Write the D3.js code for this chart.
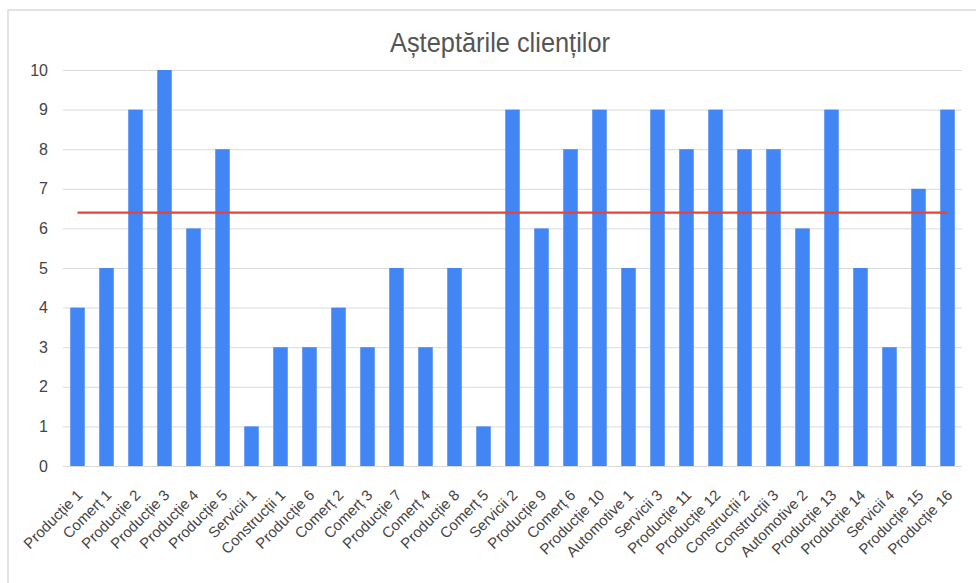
<!DOCTYPE html>
<html>
<head>
<meta charset="utf-8">
<script src="https://cdn.jsdelivr.net/npm/d3@7"></script>
<style>
  html, body { margin: 0; padding: 0; background: #fff; }
  svg { display: block; }
  text { font-family: "Liberation Sans", Arial, sans-serif; }
</style>
</head>
<body>
<svg id="chart" width="976" height="583"></svg>
<script>
// Category labels along the x axis
const categories = [
  "Producție 1", "Comerț 1", "Producție 2", "Producție 3", "Producție 4",
  "Producție 5", "Servicii 1", "Construcții 1", "Producție 6", "Comerț 2",
  "Comerț 3", "Producție 7", "Comerț 4", "Producție 8", "Comerț 5",
  "Servicii 2", "Producție 9", "Comerț 6", "Producție 10", "Automotive 1",
  "Servicii 3", "Producție 11", "Producție 12", "Construcții 2", "Construcții 3",
  "Automotive 2", "Producție 13", "Producție 14", "Servicii 4", "Producție 15",
  "Producție 16"
];

// Bar values per category
const expectations = [
  4, 5, 9, 10, 6, 8, 1, 3, 3, 4, 3, 5, 3, 5, 1,
  9, 6, 8, 9, 5, 9, 8, 9, 8, 8, 6, 9, 5, 3, 7, 9
];

// Reference line value (same for every category)
const referenceValue = 6.4;
const referenceLine = categories.map(() => referenceValue);

// Y axis ticks
const yTicks = [0, 1, 2, 3, 4, 5, 6, 7, 8, 9, 10];

const title = "Așteptările clienților";

const FONT = "'Liberation Sans', Arial, sans-serif";
const svg = d3.select("#chart");

// Outer frame
svg.append("rect")
  .attr("x", 8).attr("y", 10)
  .attr("width", 1000).attr("height", 600)
  .attr("fill", "#fff")
  .attr("stroke", "#dadada")
  .attr("stroke-width", 1.5);

const plot = { left: 63, right: 962, top: 70, bottom: 466 };

const x = d3.scaleBand()
  .domain(categories)
  .range([plot.left, plot.right])
  .paddingInner(0.5)
  .paddingOuter(0.25);

const y = d3.scaleLinear()
  .domain([0, 10])
  .range([plot.bottom, plot.top]);

// Title (narrow face)
svg.append("text")
  .attr("x", 390)
  .attr("y", 52)
  .attr("font-size", 28)
  .attr("fill", "#555")
  .attr("textLength", 220)
  .attr("lengthAdjust", "spacingAndGlyphs")
  .text(title);

// Gridlines and y labels
const yAxis = d3.axisLeft(y)
  .tickValues(yTicks)
  .tickSize(-(plot.right - plot.left))
  .tickPadding(15)
  .tickFormat(d3.format("d"));

const gy = svg.append("g")
  .attr("transform", `translate(${plot.left},0)`)
  .call(yAxis);
gy.select(".domain").remove();
gy.selectAll(".tick line")
  .attr("stroke", "#dadada")
  .attr("stroke-width", 1);
gy.selectAll(".tick text")
  .attr("font-size", 16)
  .attr("fill", "#444")
  .attr("font-family", FONT);

// Bars
svg.append("g")
  .selectAll("rect")
  .data(categories)
  .join("rect")
  .attr("x", d => x(d))
  .attr("width", x.bandwidth())
  .attr("y", (d, i) => y(expectations[i]))
  .attr("height", (d, i) => y(0) - y(expectations[i]))
  .attr("fill", "#4285f4");

// Reference line through category centres
const line = d3.line()
  .x((d, i) => x(categories[i]) + x.bandwidth() / 2)
  .y(d => y(d));

svg.append("path")
  .datum(referenceLine)
  .attr("d", line)
  .attr("fill", "none")
  .attr("stroke", "#ea4335")
  .attr("stroke-width", 2.2);

// X axis labels, rotated
const xAxis = d3.axisBottom(x).tickSize(0).tickPadding(0);
const gx = svg.append("g")
  .attr("transform", `translate(0,${plot.bottom})`)
  .call(xAxis);
gx.select(".domain").remove();
gx.selectAll(".tick text")
  .attr("font-size", 15)
  .attr("fill", "#444")
  .attr("font-family", FONT)
  .attr("text-anchor", "end")
  .attr("dy", null)
  .attr("y", 0)
  .attr("transform", "translate(6,30) rotate(-45)");
</script>
</body>
</html>
